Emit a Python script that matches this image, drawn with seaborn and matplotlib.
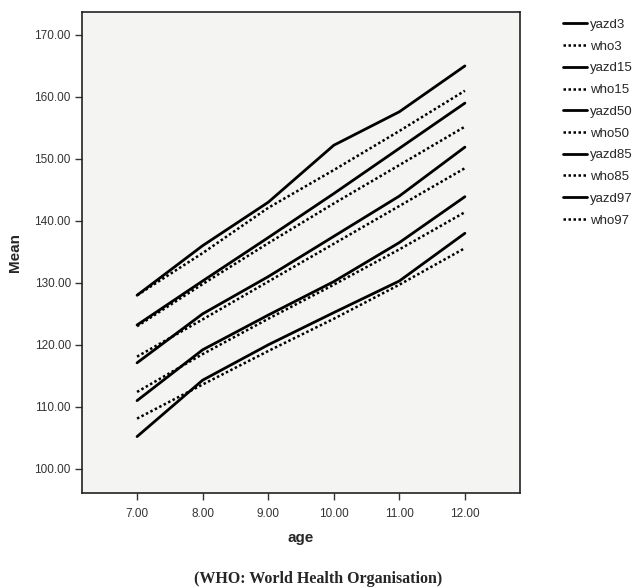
import pandas as pd
import numpy as np
import seaborn as sns
import matplotlib.pyplot as plt
from matplotlib.ticker import FormatStrFormatter

ages = [7, 8, 9, 10, 11, 12]

yazd3 = [105.2, 114.3, 120.0, 125.2, 130.3, 138.0]
who3 = [108.1, 113.6, 119.0, 124.2, 129.7, 135.6]
yazd15 = [111.0, 119.2, 124.8, 130.2, 136.5, 143.9]
who15 = [112.4, 118.5, 124.2, 129.7, 135.4, 141.4]
yazd50 = [117.1, 125.0, 131.0, 137.5, 144.0, 151.9]
who50 = [118.1, 124.1, 130.2, 136.3, 142.4, 148.5]
yazd85 = [123.2, 130.3, 137.3, 144.4, 151.7, 159.0]
who85 = [123.0, 129.8, 136.4, 142.8, 149.0, 155.2]
yazd97 = [128.0, 136.0, 143.0, 152.2, 157.6, 165.0]
who97 = [128.0, 134.8, 142.1, 148.2, 154.5, 161.0]

names = ["yazd3", "who3", "yazd15", "who15", "yazd50", "who50",
         "yazd85", "who85", "yazd97", "who97"]
series = [yazd3, who3, yazd15, who15, yazd50, who50, yazd85, who85, yazd97, who97]

rows = []
for name, vals in zip(names, series):
    for a, v in zip(ages, vals):
        rows.append({"age": a, "Mean": v, "series": name})
df = pd.DataFrame(rows)

sns.set_style("white")
plt.rcParams['font.family'] = ['Liberation Sans', 'DejaVu Sans']

fig = plt.figure(figsize=(6.37, 5.88), dpi=100)
ax = fig.add_axes([0.1287, 0.1616, 0.6876, 0.818])
ax.set_facecolor("#f4f4f2")

dashes = {n: "" if n.startswith("yazd") else (1, 1) for n in names}
sizes = {n: 2.0 if n.startswith("yazd") else 1.8 for n in names}
sns.lineplot(data=df, x="age", y="Mean", hue="series", style="series",
             hue_order=names, style_order=names, palette=["black"] * 10,
             dashes=dashes, size="series", sizes=sizes, size_order=names, ax=ax)

ax.set_xlim(6.16, 12.84)
ax.set_ylim(96.1, 173.7)
ax.set_xticks(ages)
ax.set_yticks([100, 110, 120, 130, 140, 150, 160, 170])
ax.xaxis.set_major_formatter(FormatStrFormatter("%.2f"))
ax.yaxis.set_major_formatter(FormatStrFormatter("%.2f"))
ax.tick_params(axis="both", labelsize=8.5, length=5, width=1, color="#333333",
               direction="out", bottom=True, left=True, labelcolor="#333333")
ax.tick_params(axis="x", pad=6)
ax.tick_params(axis="y", pad=3)
for sp in ax.spines.values():
    sp.set_color("#222222")
    sp.set_linewidth(1.2)

ax.set_xlabel("age", fontsize=11, fontweight="bold", labelpad=8)
ax.set_ylabel("Mean", fontsize=11, fontweight="bold", labelpad=9)

handles, labels = ax.get_legend_handles_labels()
ax.legend(handles[:10], labels[:10], loc="upper left", bbox_to_anchor=(1.087, 0.997),
          frameon=False, fontsize=9.5, handlelength=1.8, handletextpad=0.25,
          labelspacing=0.72, borderaxespad=0)

fig.text(0.5, 0.016, "(WHO: World Health Organisation)", ha="center", va="center",
         fontsize=11.5, fontweight="bold", family="Liberation Serif")

fig.savefig("out.png", dpi=100)
